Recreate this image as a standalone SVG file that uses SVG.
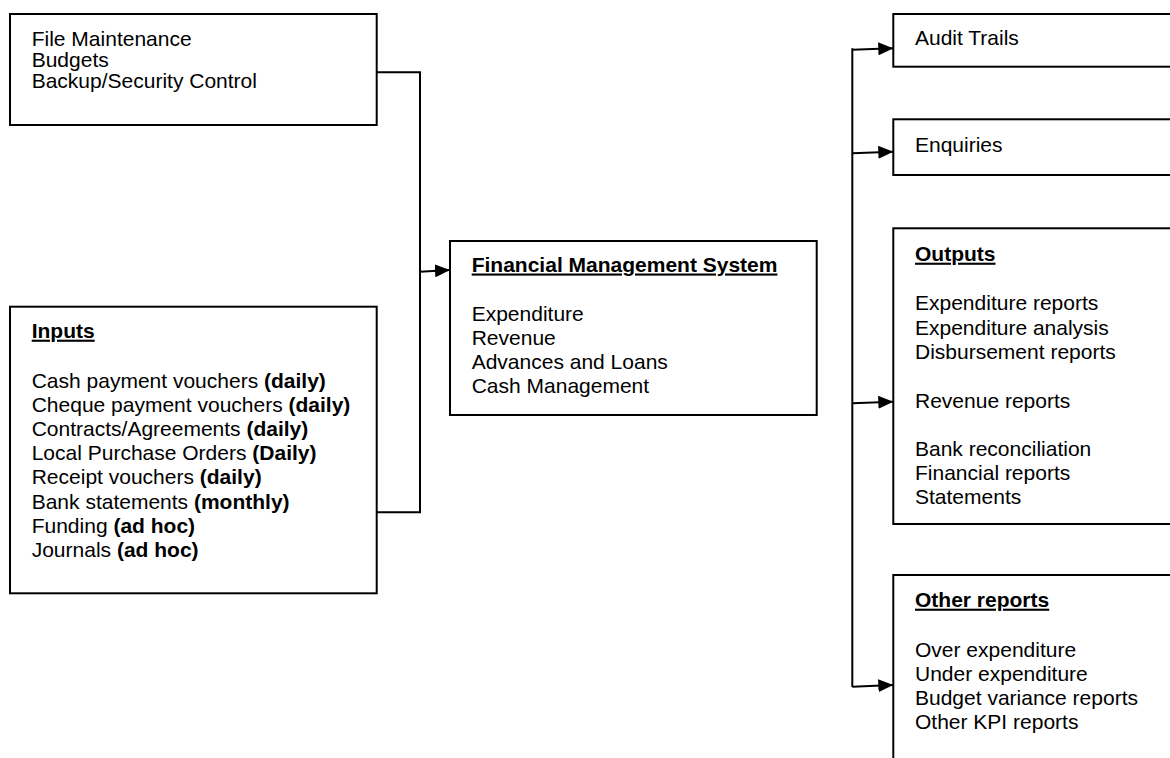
<svg xmlns="http://www.w3.org/2000/svg" width="1170" height="758" viewBox="0 0 1170 758">
<defs>
<style>
.box{fill:#fff;stroke:#000;stroke-width:2}
.t{font-family:"Liberation Sans",Arial,sans-serif;font-size:21px;fill:#000}
.b{font-weight:bold}
.u{font-weight:bold;text-decoration:underline}
.c{fill:none;stroke:#000;stroke-width:2}
</style>
<marker id="ah" markerWidth="15" markerHeight="13" refX="15" refY="6.5" orient="auto" markerUnits="userSpaceOnUse">
<path d="M0,0 L15,6.5 L0,13 Z" fill="#000"/>
</marker>
</defs>
<rect width="1170" height="758" fill="#fff"/>

<g id="connectors">
<polyline class="c" points="377,72.3 420,72.3 420,512.3 377,512.3"/>
<line class="c" x1="420" y1="271.7" x2="450" y2="270" marker-end="url(#ah)"/>
<line class="c" x1="852.3" y1="48.3" x2="852.3" y2="687"/>
<line class="c" x1="852.3" y1="49.7" x2="893.3" y2="48.3" marker-end="url(#ah)"/>
<line class="c" x1="852.3" y1="153.3" x2="893.3" y2="151.7" marker-end="url(#ah)"/>
<line class="c" x1="852.3" y1="403.3" x2="893.3" y2="401.7" marker-end="url(#ah)"/>
<line class="c" x1="852.3" y1="686.7" x2="893.3" y2="685" marker-end="url(#ah)"/>
</g>

<g id="maintenance">
<rect class="box" x="10" y="14" width="366.7" height="111"/>
<text class="t" x="31.7" y="45.5">File Maintenance</text>
<text class="t" x="31.7" y="66.5">Budgets</text>
<text class="t" x="31.7" y="87.5">Backup/Security Control</text>
</g>

<g id="inputs">
<rect class="box" x="10" y="306.7" width="366.7" height="286.6"/>
<text class="t u" x="31.7" y="337.7">Inputs</text>
<text class="t" x="31.7" y="387.7">Cash payment vouchers <tspan class="b">(daily)</tspan></text>
<text class="t" x="31.7" y="411.9">Cheque payment vouchers <tspan class="b">(daily)</tspan></text>
<text class="t" x="31.7" y="436">Contracts/Agreements <tspan class="b">(daily)</tspan></text>
<text class="t" x="31.7" y="460.2">Local Purchase Orders <tspan class="b">(Daily)</tspan></text>
<text class="t" x="31.7" y="484.3">Receipt vouchers <tspan class="b">(daily)</tspan></text>
<text class="t" x="31.7" y="508.5">Bank statements <tspan class="b">(monthly)</tspan></text>
<text class="t" x="31.7" y="532.6">Funding <tspan class="b">(ad hoc)</tspan></text>
<text class="t" x="31.7" y="556.8">Journals <tspan class="b">(ad hoc)</tspan></text>
</g>

<g id="fms">
<rect class="box" x="450" y="241" width="366.7" height="174"/>
<text class="t u" x="471.7" y="271.5">Financial Management System</text>
<text class="t" x="471.7" y="320.7">Expenditure</text>
<text class="t" x="471.7" y="344.9">Revenue</text>
<text class="t" x="471.7" y="369.1">Advances and Loans</text>
<text class="t" x="471.7" y="393.3">Cash Management</text>
</g>

<g id="audit">
<rect class="box" x="893.3" y="14" width="290" height="52.7"/>
<text class="t" x="915" y="45.3">Audit Trails</text>
</g>

<g id="enquiries">
<rect class="box" x="893.3" y="119.3" width="290" height="55.7"/>
<text class="t" x="915" y="151.5">Enquiries</text>
</g>

<g id="outputs">
<rect class="box" x="893.3" y="228.3" width="290" height="295.7"/>
<text class="t u" x="915" y="260.7">Outputs</text>
<text class="t" x="915" y="310.3">Expenditure reports</text>
<text class="t" x="915" y="334.5">Expenditure analysis</text>
<text class="t" x="915" y="358.7">Disbursement reports</text>
<text class="t" x="915" y="407.5">Revenue reports</text>
<text class="t" x="915" y="456">Bank reconciliation</text>
<text class="t" x="915" y="480.2">Financial reports</text>
<text class="t" x="915" y="504.4">Statements</text>
</g>

<g id="other">
<rect class="box" x="893.3" y="575" width="290" height="200"/>
<text class="t u" x="915" y="606.7">Other reports</text>
<text class="t" x="915" y="656.7">Over expenditure</text>
<text class="t" x="915" y="680.9">Under expenditure</text>
<text class="t" x="915" y="705.1">Budget variance reports</text>
<text class="t" x="915" y="729.3">Other KPI reports</text>
</g>
</svg>
